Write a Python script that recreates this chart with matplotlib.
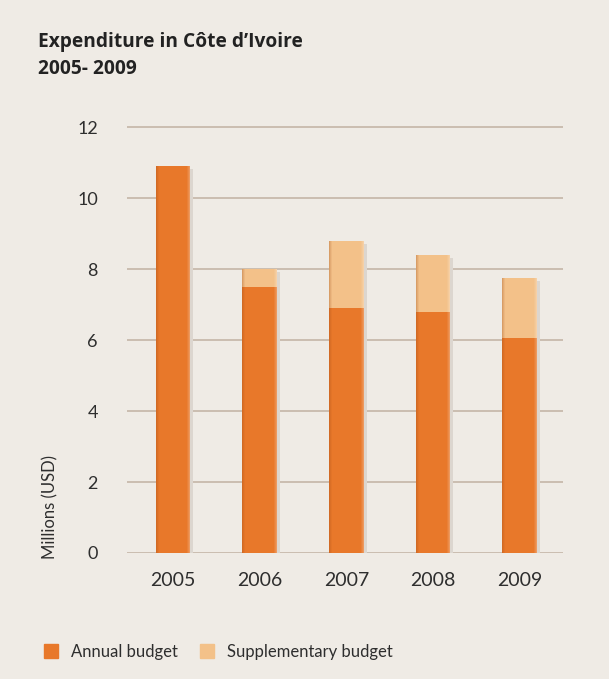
import matplotlib.pyplot as plt
import matplotlib.patches as mpatches

years = ['2005', '2006', '2007', '2008', '2009']
annual = [10.9, 7.5, 6.9, 6.8, 6.05]
supplementary = [0.0, 0.5, 1.9, 1.6, 1.7]

c_annual = '#e8782a'
c_supp = '#f3c189'
bg = '#efebe5'
txt = '#2e2e2e'

fig = plt.figure(figsize=(6.09, 6.79), dpi=100, facecolor=bg)
ax = fig.add_axes([0.2085, 0.1856, 0.716, 0.6297])
ax.set_facecolor(bg)

x = list(range(len(years)))
w = 0.40
tops = [a + s for a, s in zip(annual, supplementary)]
# soft drop shadow
ax.bar([i + 0.035 for i in x], [t - 0.08 for t in tops], w, color='#dcd6cf', zorder=2)
ax.bar(x, annual, w, color=c_annual, zorder=3)
ax.bar(x, supplementary, w, bottom=annual, color=c_supp, zorder=3)
# bevel: darker left edge, lighter right edge
for k, a in enumerate([0.30, 0.18, 0.08]):
    ax.bar([i - w / 2 + 0.012 * (k + 0.5) for i in x], tops, 0.012,
           color='#9c4a18', alpha=a, zorder=4, linewidth=0)
for k, a in enumerate([0.25, 0.15, 0.07]):
    ax.bar([i + w / 2 - 0.012 * (k + 0.5) for i in x], tops, 0.012,
           color='#ffffff', alpha=a, zorder=4, linewidth=0)

ax.set_xlim(-0.53, 4.5)
ax.set_ylim(0, 12.05)
ax.set_yticks(range(0, 13, 2))
ax.yaxis.grid(True, color='#cbbdb0', lw=1.4)
ax.set_axisbelow(True)
for s in ax.spines.values():
    s.set_visible(False)
ax.tick_params(length=0, labelcolor=txt)
ax.tick_params(axis='y', pad=21)
ax.tick_params(axis='x', pad=14)
ax.set_xticks(x)
ax.set_xticklabels(years, fontfamily='Lato', fontsize=14)
for lab in ax.get_yticklabels():
    lab.set_fontfamily('Lato')
    lab.set_fontsize(13)

fig.text(0.083, 0.176, 'Millions (USD)', rotation=90, ha='center', va='bottom',
         fontsize=12, color=txt, fontfamily='Lato')

fig.text(0.062, 0.923, "Expenditure in Côte d\u2019Ivoire", fontsize=13.8,
         fontweight='bold', color='#222222', va='bottom', fontfamily='Open Sans')
fig.text(0.062, 0.883, "2005- 2009", fontsize=13.8,
         fontweight='bold', color='#222222', va='bottom', fontfamily='Open Sans')

h1 = mpatches.Patch(color=c_annual, label='Annual budget')
h2 = mpatches.Patch(color=c_supp, label='Supplementary budget')
fig.legend(handles=[h1, h2], loc='center left', bbox_to_anchor=(0.072, 0.040),
           ncol=2, frameon=False, handlelength=0.85, handleheight=0.85,
           handletextpad=0.8, columnspacing=1.3, labelcolor=txt,
           borderpad=0, borderaxespad=0,
           prop={'family': 'Lato', 'size': 12})

fig.savefig('out.png', dpi=100, facecolor=bg)
